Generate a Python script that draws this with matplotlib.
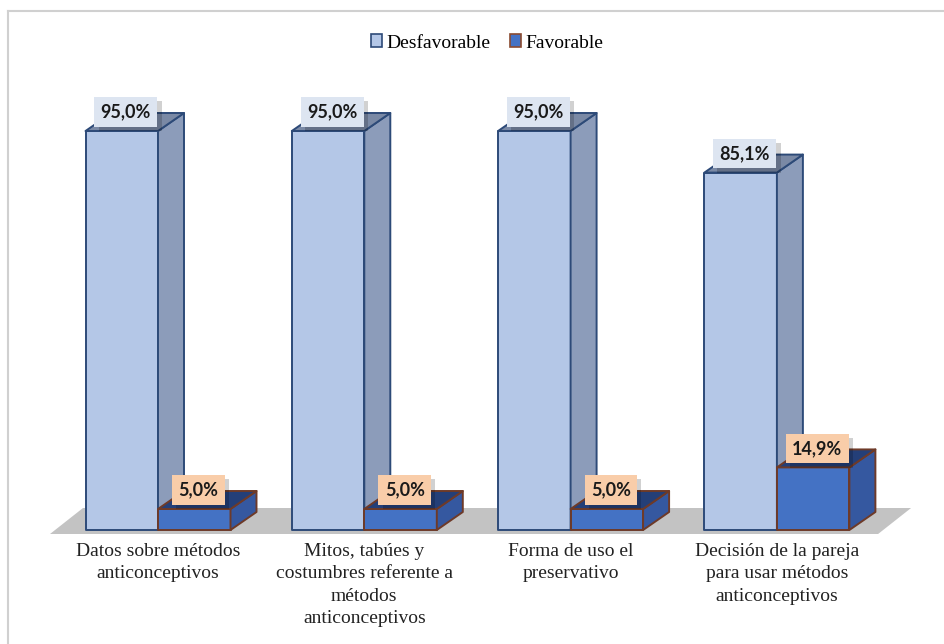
import matplotlib
matplotlib.use("Agg")
import matplotlib.pyplot as plt
from matplotlib.patches import Polygon, Patch
from matplotlib.lines import Line2D
import matplotlib.patheffects as pe

categories = [
    "Datos sobre métodos\nanticonceptivos",
    "Mitos, tabúes y\ncostumbres referente a\nmétodos\nanticonceptivos",
    "Forma de uso el\npreservativo",
    "Decisión de la pareja\npara usar métodos\nanticonceptivos",
]
desfavorable = [95.0, 95.0, 95.0, 85.1]
favorable = [5.0, 5.0, 5.0, 14.9]
series_names = ["Desfavorable", "Favorable"]

W, H = 944, 644
fig = plt.figure(figsize=(W / 100, H / 100), dpi=100)
ax = fig.add_axes([0, 0, 1, 1])
ax.set_axis_off()

# pixel geometry -> data limits
gx0, gsp = 158.0, 206.3      # group centre px, spacing px
ybase, pxper = 530.0, 4.2    # baseline px (from top), px per %
ax.set_xlim(-gx0 / gsp, (W - gx0) / gsp)
ax.set_ylim((ybase - H) / pxper, ybase / pxper)

bw = 72.5 / gsp
ddx = 26 / gsp
ddy = 18 / pxper

# frame lines (top and left)
fig.add_artist(Line2D([8 / W, 1], [1 - 11 / H, 1 - 11 / H], color="#d0d0d0", lw=1.5))
fig.add_artist(Line2D([8 / W, 8 / W], [0, 1 - 11 / H], color="#d0d0d0", lw=1.5))

# floor
n = len(categories)
fl = -0.5235
fr = (n - 1) + 0.4905
fy0 = -4 / pxper
fdx, fdy = 33 / gsp, 26 / pxper
ax.add_patch(Polygon([(fl, fy0), (fr, fy0), (fr + fdx, fy0 + fdy), (fl + fdx, fy0 + fdy)],
                     closed=True, facecolor="#c3c3c3", edgecolor="none", zorder=1))


def bar3d(x0, h, front, side, top, edge):
    x1 = x0 + bw
    ax.add_patch(Polygon([(x0, 0), (x1, 0), (x1, h), (x0, h)], facecolor=front,
                         edgecolor=edge, lw=1.4, zorder=3, joinstyle="round"))
    ax.add_patch(Polygon([(x1, 0), (x1 + ddx, ddy), (x1 + ddx, h + ddy), (x1, h)],
                         facecolor=side, edgecolor=edge, lw=1.4, zorder=3, joinstyle="round"))
    ax.add_patch(Polygon([(x0, h), (x1, h), (x1 + ddx, h + ddy), (x0 + ddx, h + ddy)],
                         facecolor=top, edgecolor=edge, lw=1.4, zorder=3, joinstyle="round"))


label_font = ["Lato", "DejaVu Sans"]


def value_label(x, y, s, bg):
    t = ax.text(x, y, s, ha="center", va="center", fontsize=13, fontweight="bold",
                family=label_font, color="#1a1a1a", zorder=5,
                bbox=dict(boxstyle="square,pad=0.35", facecolor=bg, edgecolor="none"))
    t.get_bbox_patch().set_path_effects(
        [pe.withSimplePatchShadow(offset=(3, -3), shadow_rgbFace="black", alpha=0.18)])


for i in range(n):
    bar3d(i - bw, desfavorable[i], "#b4c7e7", "#8c9cba", "#7a89a5", "#2d4a78")
    bar3d(i, favorable[i], "#4472c4", "#3558a0", "#243f78", "#6e3a28")
    value_label(i - bw / 2 + 0.02, desfavorable[i] + 4.5,
                f"{desfavorable[i]:.1f}%".replace(".", ","), "#dde5f1")
    value_label(i + bw / 2 + 0.02, favorable[i] + 4.5,
                f"{favorable[i]:.1f}%".replace(".", ","), "#f9cda9")
    ax.text(i, (ybase - 543) / pxper, categories[i], ha="center", va="top",
            fontsize=14, family="Liberation Serif", color="#222222", linespacing=1.42)

handles = [Patch(facecolor="#b4c7e7", edgecolor="#2d4a78", lw=1.2),
           Patch(facecolor="#4472c4", edgecolor="#8a4a30", lw=1.2)]
fig.legend(handles, series_names, loc="center", bbox_to_anchor=(487 / W, 1 - 43 / H),
           ncol=2, frameon=False, handlelength=0.6, handleheight=0.6, handletextpad=0.2,
           columnspacing=1.0, prop={"family": "Liberation Serif", "size": 14})

fig.savefig("out.png", dpi=100)
